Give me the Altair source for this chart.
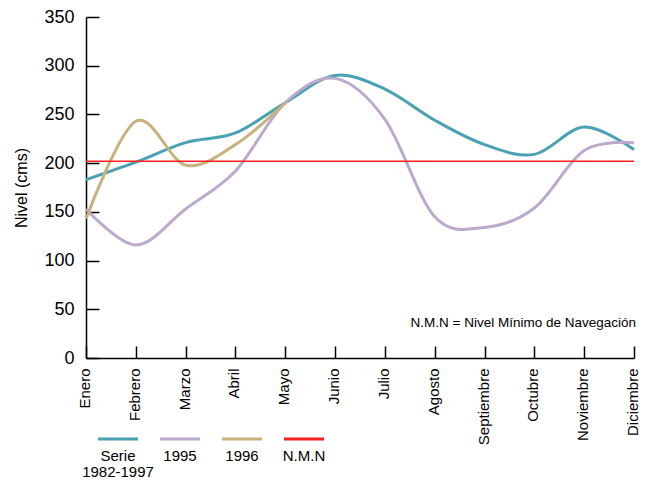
import altair as alt
import pandas as pd

meses = ["Enero", "Febrero", "Marzo", "Abril", "Mayo", "Junio", "Julio",
         "Agosto", "Septiembre", "Octubre", "Noviembre", "Diciembre"]
serie_8297 = [183, 201, 221, 231, 262, 290, 276, 244, 219, 209, 237, 214]
serie_1995 = [153, 116, 153, 192, 262, 287, 245, 145, 134, 154, 213, 221]
serie_1996 = [143, 243, 198, 219, 262]
nmn = 202
series = ["Serie 1982-1997", "1995", "1996", "N.M.N"]
etiquetas = ["Serie\n1982-1997", "1995", "1996", "N.M.N"]
colores = ["#4aa0b5", "#bca9cb", "#c9b07c", "#ff2020"]
nota = "N.M.N = Nivel Mínimo de Navegación"

W, H = 548, 341
FONT = "Liberation Sans"

rows = []
for name, vals in [(series[0], serie_8297), (series[1], serie_1995), (series[2], serie_1996)]:
    for m, v in zip(meses, vals):
        rows.append({"mes": m, "nivel": v, "serie": name})
df = pd.DataFrame(rows)

color = alt.Color("serie:N", scale=alt.Scale(domain=series, range=colores), legend=None)

x_main = alt.X("mes:O", sort=meses, scale=alt.Scale(type="point", padding=0),
               axis=alt.Axis(title=None, labelAngle=-90, labelFontSize=15,
                             labelPadding=22, labelOffset=-1.5,
                             tickSize={"expr": "-12"}))
y_main = alt.Y("nivel:Q", scale=alt.Scale(domain=[0, 350]),
               axis=alt.Axis(values=list(range(0, 351, 50)), title="Nivel (cms)",
                             labelFontSize=18, labelPadding=25, titleFontSize=16,
                             titlePadding=14, tickSize={"expr": "-13"}))

lines = alt.Chart(df).mark_line(interpolate="cardinal", strokeWidth=3).encode(
    x=x_main, y=y_main, color=color, order=alt.Order("serie:N")
)

rule = alt.Chart(pd.DataFrame({"serie": ["N.M.N"], "nivel": [nmn]})).mark_rule(
    strokeWidth=1.5).encode(y=alt.Y("nivel:Q"), color=color)

note = alt.Chart(pd.DataFrame({"t": [nota]})).mark_text(
    align="right", baseline="middle", fontSize=13.5, font=FONT, dx=2, color="black"
).encode(x=alt.datum("Diciembre"), y=alt.datum(36), text="t:N")

main = alt.layer(lines, rule, note)

leg_df = pd.DataFrame({"serie": series, "etiqueta": etiquetas})
leg_x = alt.X("serie:N", sort=series,
              scale=alt.Scale(type="point", range=[32, 218], padding=0), axis=None)
leg_sym = alt.Chart(leg_df).mark_point(shape="stroke", size=1600, strokeWidth=3,
                                       filled=False, opacity=1).encode(
    x=leg_x, y=alt.value(H + 81), color=color)
leg_txt = alt.Chart(leg_df).mark_text(baseline="top", align="center", lineBreak="\n",
                                      fontSize=15, lineHeight=16, font=FONT,
                                      color="black").encode(
    x=leg_x, y=alt.value(H + 91), text="etiqueta:N")
legend = alt.layer(leg_sym, leg_txt)

chart = alt.layer(main, legend).resolve_scale(x="independent").properties(
    width=W, height=H,
    autosize=alt.AutoSizeParams(type="none"),
    padding={"left": 78, "top": 9, "right": 6, "bottom": 121}
).configure_view(stroke=None).configure_axis(
    grid=False, domainColor="black", domainWidth=1.5, tickColor="black", tickWidth=1.5,
    labelColor="black", titleColor="black", labelFont=FONT, titleFont=FONT,
    titleFontWeight="normal"
)

chart.save("out.html", embed_options={"renderer": "svg", "actions": False})
